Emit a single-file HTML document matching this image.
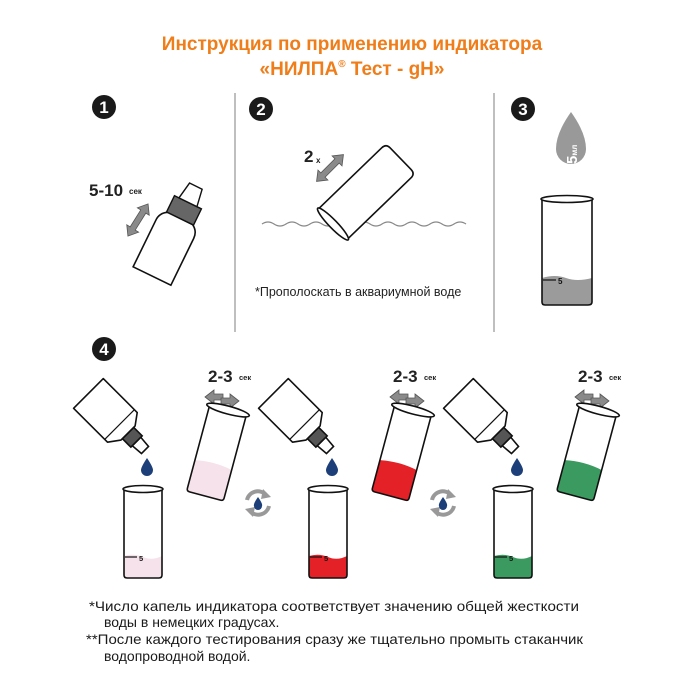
<!DOCTYPE html>
<html><head><meta charset="utf-8"><style>
html,body{margin:0;padding:0;background:#fff;width:700px;height:700px;overflow:hidden}
svg{display:block;font-family:"Liberation Sans",sans-serif}
</style></head><body>
<svg width="700" height="700" viewBox="0 0 700 700" xmlns="http://www.w3.org/2000/svg">
<defs>
  <g id="num">
    <circle r="12" fill="#1a1a1a"/>
  </g>
  <g id="dbottle">
    <path d="M-5,0 L5,0 L6,-12 L-6,-12 Z" fill="#fff" stroke="#111" stroke-width="1.6"/>
    <rect x="-8" y="-24" width="16" height="12" fill="#555" stroke="#111" stroke-width="1.6"/>
    <path d="M-10,-24 L10,-24 L21,-32 L21,-80 L-21,-80 L-21,-32 Z" fill="#fff" stroke="#111" stroke-width="1.6" stroke-linejoin="round"/>
    <line x1="-21" y1="-36" x2="21" y2="-36" stroke="#111" stroke-width="1.2"/>
  </g>
  <g id="rot">
    <path d="M-11,-3 A11,11 0 0 1 8,-8" fill="none" stroke="#999" stroke-width="4"/>
    <path d="M5,-14 L13,-6 L3,-4 Z" fill="#999"/>
    <path d="M11,3 A11,11 0 0 1 -8,8" fill="none" stroke="#999" stroke-width="4"/>
    <path d="M-5,14 L-13,6 L-3,4 Z" fill="#999"/>
    <path d="M0,-6 Q5,1 4,3 A4,4 0 0 1 -4,3 Q-5,1 0,-6 Z" fill="#1c3f7a"/>
  </g>
  <g id="darr">
    <path d="M0,0 L9,-7 L9,-3 L18,-3 L18,3 L9,3 L9,7 Z" fill="#8a8a8a" stroke="#555" stroke-width="0.8"/>
    <path d="M34,4 L25,-3 L25,1 L16,1 L16,7 L25,7 L25,11 Z" fill="#8a8a8a" stroke="#555" stroke-width="0.8"/>
  </g>
  <path id="drop" d="M0,-9 Q6,0 6,3 A6,6 0 0 1 -6,3 Q-6,0 0,-9 Z" fill="#1c3f7a"/>
</defs>

<!-- Title -->
<text x="352" y="50" text-anchor="middle" font-size="19" font-weight="bold" fill="#ef7d1a">Инструкция по применению индикатора</text>
<text x="352" y="75" text-anchor="middle" font-size="19" font-weight="bold" fill="#ef7d1a">«НИЛПА<tspan font-size="10" dy="-8">®</tspan><tspan dy="8"> Тест - gH»</tspan></text>

<!-- dividers -->
<line x1="235" y1="93" x2="235" y2="332" stroke="#aaa" stroke-width="1.5"/>
<line x1="494" y1="93" x2="494" y2="332" stroke="#aaa" stroke-width="1.5"/>

<!-- numbers -->
<g transform="translate(104,107)"><use href="#num"/><text y="6" text-anchor="middle" font-size="17" font-weight="bold" fill="#fff">1</text></g>
<g transform="translate(261,109)"><use href="#num"/><text y="6" text-anchor="middle" font-size="17" font-weight="bold" fill="#fff">2</text></g>
<g transform="translate(523,109)"><use href="#num"/><text y="6" text-anchor="middle" font-size="17" font-weight="bold" fill="#fff">3</text></g>
<g transform="translate(104,349)"><use href="#num"/><text y="6" text-anchor="middle" font-size="17" font-weight="bold" fill="#fff">4</text></g>

<!-- Step 1 -->
<text x="89" y="196" font-size="17" font-weight="bold" fill="#222">5-10</text>
<text x="129" y="194" font-size="8" font-weight="bold" fill="#222">сек</text>
<g transform="translate(138,220) rotate(-58)">
  <path d="M-19,0 L-10,-7 L-10,-3 L10,-3 L10,-7 L19,0 L10,7 L10,3 L-10,3 L-10,7 Z" fill="#8a8a8a" stroke="#555" stroke-width="0.8"/>
</g>
<g transform="translate(152,276) rotate(26)">
  <path d="M-21,0 L21,0 L21,-52 Q21,-60 14,-64 L-14,-64 Q-21,-60 -21,-52 Z" fill="#fff" stroke="#111" stroke-width="1.6"/>
  <rect x="-15" y="-82" width="30" height="18" fill="#666" stroke="#111" stroke-width="1.4"/>
  <path d="M-10,-82 L10,-82 L7,-100 L-7,-100 Z" fill="#fff" stroke="#111" stroke-width="1.4"/>
</g>

<!-- Step 2 -->
<text x="304" y="162" font-size="17" font-weight="bold" fill="#222">2</text>
<text x="316" y="163" font-size="8" font-weight="bold" fill="#222">x</text>
<g transform="translate(330,168) rotate(-45)">
  <path d="M-19,0 L-10,-7 L-10,-3 L10,-3 L10,-7 L19,0 L10,7 L10,3 L-10,3 L-10,7 Z" fill="#8a8a8a" stroke="#555" stroke-width="0.8"/>
</g>
<path d="M262,224 q6,-4 12,0 t12,0 t12,0 t12,0 t12,0 t12,0 t12,0 t12,0 t12,0 t12,0 t12,0 t12,0 t12,0 t12,0 t12,0 t12,0 t12,0" fill="none" stroke="#888" stroke-width="1.3"/>
<g transform="translate(333,224) rotate(46)">
  <path d="M-21,0 L-21,-88 Q-21,-94 -15,-94 L15,-94 Q21,-94 21,-88 L21,0" fill="#fff" stroke="#111" stroke-width="1.6"/>
  <ellipse cx="0" cy="0" rx="22" ry="4" fill="#fff" stroke="#111" stroke-width="1.6"/>
</g>
<text x="255" y="296" font-size="12.5" fill="#222">*Прополоскать в аквариумной воде</text>

<!-- Step 3 -->
<path d="M571,112 Q586,133 586,149 A15,15 0 0 1 556,149 Q556,133 571,112 Z" fill="#999"/>
<text transform="translate(577,164) rotate(-90)" font-size="15" font-weight="bold" fill="#fff">5<tspan font-size="8">мл</tspan></text>
<path d="M542,278 Q555,274 566,278 T592,278 L592,302 Q592,305 588,305 L545,305 Q542,305 542,302 Z" fill="#9b9b9b"/>
<path d="M542,199 L542,302 Q542,305 545,305 L588,305 Q592,305 592,302 L592,199" fill="none" stroke="#111" stroke-width="1.6"/>
<ellipse cx="567" cy="199" rx="26" ry="3.5" fill="#fff" stroke="#111" stroke-width="1.6"/>
<line x1="543" y1="280" x2="556" y2="280" stroke="#111" stroke-width="1.2"/>
<text x="558" y="284" font-size="8" font-weight="bold" fill="#111">5</text>

<!-- Step 4 groups -->
<g>
  <text x="208" y="382" font-size="17" font-weight="bold" fill="#222">2-3</text>
  <text x="239" y="380" font-size="7.5" font-weight="bold" fill="#222">сек</text>
  <g transform="translate(205,397)"><use href="#darr"/></g>
  <g transform="translate(145,450) rotate(-45)"><use href="#dbottle"/></g>
  <g transform="translate(147,467)"><use href="#drop"/></g>
  <g transform="translate(205,496) rotate(15)">
    <path d="M-19,-32 Q0,-36 19,-32 L19,-3 Q19,0 16,0 L-16,0 Q-19,0 -19,-3 Z" fill="#f6e2ea"/>
    <path d="M-19,-88 L-19,-3 Q-19,0 -16,0 L16,0 Q19,0 19,-3 L19,-88" fill="none" stroke="#111" stroke-width="1.6"/>
    <ellipse cx="0" cy="-89" rx="22" ry="4" fill="#fff" stroke="#111" stroke-width="1.6"/>
  </g>
  <path d="M124,556 Q134,553 143,557 T162,556 L162,575 Q162,578 159,578 L127,578 Q124,578 124,575 Z" fill="#f6e2ea"/>
  <path d="M124,489 L124,575 Q124,578 127,578 L159,578 Q162,578 162,575 L162,489" fill="none" stroke="#111" stroke-width="1.6"/>
  <ellipse cx="143" cy="489" rx="20" ry="3.5" fill="#fff" stroke="#111" stroke-width="1.6"/>
  <line x1="125" y1="557" x2="137" y2="557" stroke="#111" stroke-width="1.2"/>
  <text x="139" y="561" font-size="7.5" font-weight="bold" fill="#111">5</text>
</g>
<g transform="translate(258,503)"><use href="#rot"/></g>

<g transform="translate(185,0)">
  <text x="208" y="382" font-size="17" font-weight="bold" fill="#222">2-3</text>
  <text x="239" y="380" font-size="7.5" font-weight="bold" fill="#222">сек</text>
  <g transform="translate(205,397)"><use href="#darr"/></g>
  <g transform="translate(145,450) rotate(-45)"><use href="#dbottle"/></g>
  <g transform="translate(147,467)"><use href="#drop"/></g>
  <g transform="translate(205,496) rotate(15)">
    <path d="M-19,-32 Q0,-36 19,-32 L19,-3 Q19,0 16,0 L-16,0 Q-19,0 -19,-3 Z" fill="#e42127"/>
    <path d="M-19,-88 L-19,-3 Q-19,0 -16,0 L16,0 Q19,0 19,-3 L19,-88" fill="none" stroke="#111" stroke-width="1.6"/>
    <ellipse cx="0" cy="-89" rx="22" ry="4" fill="#fff" stroke="#111" stroke-width="1.6"/>
  </g>
  <path d="M124,556 Q134,553 143,557 T162,556 L162,575 Q162,578 159,578 L127,578 Q124,578 124,575 Z" fill="#e42127"/>
  <path d="M124,489 L124,575 Q124,578 127,578 L159,578 Q162,578 162,575 L162,489" fill="none" stroke="#111" stroke-width="1.6"/>
  <ellipse cx="143" cy="489" rx="20" ry="3.5" fill="#fff" stroke="#111" stroke-width="1.6"/>
  <line x1="125" y1="557" x2="137" y2="557" stroke="#111" stroke-width="1.2"/>
  <text x="139" y="561" font-size="7.5" font-weight="bold" fill="#111">5</text>
</g>
<g transform="translate(443,503)"><use href="#rot"/></g>

<g transform="translate(370,0)">
  <text x="208" y="382" font-size="17" font-weight="bold" fill="#222">2-3</text>
  <text x="239" y="380" font-size="7.5" font-weight="bold" fill="#222">сек</text>
  <g transform="translate(205,397)"><use href="#darr"/></g>
  <g transform="translate(145,450) rotate(-45)"><use href="#dbottle"/></g>
  <g transform="translate(147,467)"><use href="#drop"/></g>
  <g transform="translate(205,496) rotate(15)">
    <path d="M-19,-32 Q0,-36 19,-32 L19,-3 Q19,0 16,0 L-16,0 Q-19,0 -19,-3 Z" fill="#3b9a60"/>
    <path d="M-19,-88 L-19,-3 Q-19,0 -16,0 L16,0 Q19,0 19,-3 L19,-88" fill="none" stroke="#111" stroke-width="1.6"/>
    <ellipse cx="0" cy="-89" rx="22" ry="4" fill="#fff" stroke="#111" stroke-width="1.6"/>
  </g>
  <path d="M124,556 Q134,553 143,557 T162,556 L162,575 Q162,578 159,578 L127,578 Q124,578 124,575 Z" fill="#3b9a60"/>
  <path d="M124,489 L124,575 Q124,578 127,578 L159,578 Q162,578 162,575 L162,489" fill="none" stroke="#111" stroke-width="1.6"/>
  <ellipse cx="143" cy="489" rx="20" ry="3.5" fill="#fff" stroke="#111" stroke-width="1.6"/>
  <line x1="125" y1="557" x2="137" y2="557" stroke="#111" stroke-width="1.2"/>
  <text x="139" y="561" font-size="7.5" font-weight="bold" fill="#111">5</text>
</g>

<!-- Footnotes -->
<g font-size="14" fill="#1a1a1a">
  <text x="89" y="611" textLength="490" lengthAdjust="spacingAndGlyphs">*Число капель индикатора соответствует значению общей жесткости</text>
  <text x="104" y="627">воды в немецких градусах.</text>
  <text x="86" y="644" textLength="497" lengthAdjust="spacingAndGlyphs">**После каждого тестирования сразу же тщательно промыть стаканчик</text>
  <text x="104" y="661">водопроводной водой.</text>
</g>
</svg>
</body></html>
